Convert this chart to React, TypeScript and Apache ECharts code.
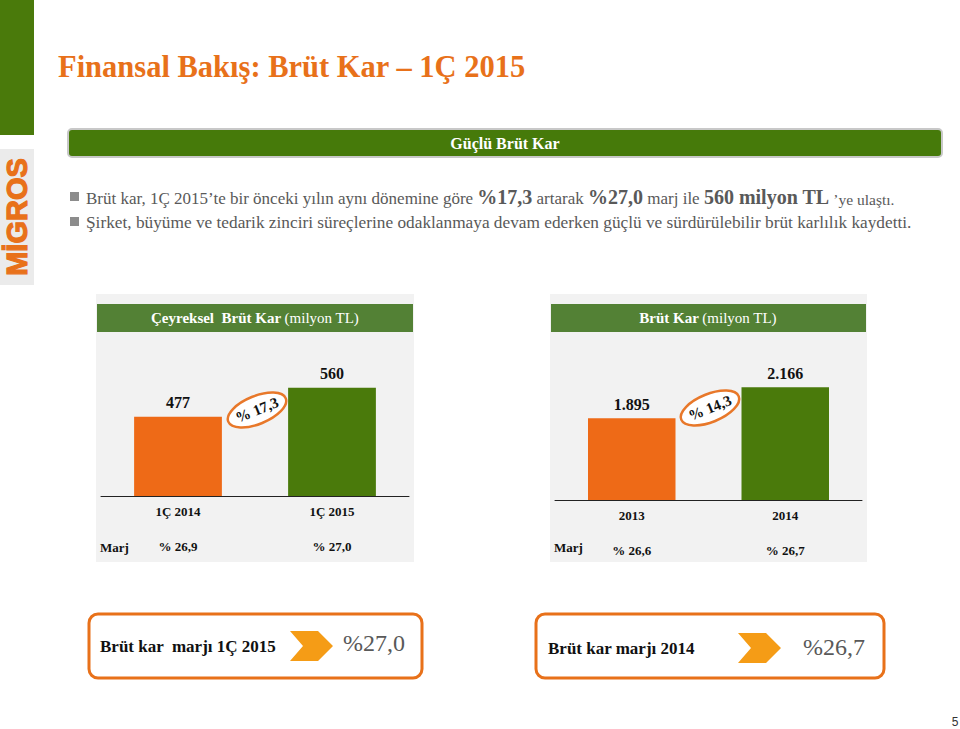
import React, { useEffect, useRef } from "react";
import * as echarts from "echarts";

const quarterCats = ["1Ç 2014", "1Ç 2015"];
const quarterValues = [477, 560];
const quarterMargins = ["% 26,9", "% 27,0"];
const yearCats = ["2013", "2014"];
const yearValues = [1895, 2166];
const yearMargins = ["% 26,6", "% 26,7"];
const growthLabels = ["% 17,3", "% 14,3"];
const boxLabels = ["Brüt kar  marjı 1Ç 2015", "Brüt kar marjı 2014"];
const boxValues = ["%27,0", "%26,7"];

const ORANGE = "#EE6A17";
const GREEN = "#4A7A0B";
const TITLE_ORANGE = "#E8711A";
const SERIF = "'Liberation Serif', 'DejaVu Serif', serif";

const fmt = (n: number) => String(n).replace(/\B(?=(\d{3})+(?!\d))/g, ".");

export default function App() {
  const ref = useRef<HTMLDivElement>(null);
  useEffect(() => {
    if (!ref.current) return;
    const chart = echarts.init(ref.current, undefined, { renderer: "svg" });
    const barColors = [ORANGE, GREEN];

    const catAxis = (gi: number, cats: string[]) => ({
      type: "category",
      gridIndex: gi,
      data: cats,
      axisLine: { lineStyle: { color: "#222", width: 1 } },
      axisTick: { show: false },
      axisLabel: { color: "#111", fontWeight: "bold", fontSize: 13, fontFamily: SERIF, margin: 9 },
    });
    const marjAxis = (gi: number, vals: string[]) => ({
      type: "category",
      gridIndex: gi,
      data: vals,
      position: "bottom",
      offset: 36,
      axisLine: { show: false },
      axisTick: { show: false },
      axisLabel: { color: "#111", fontWeight: "bold", fontSize: 13, fontFamily: SERIF, margin: 8 },
    });

    const barSeries = (axisIdx: number, values: number[], useFmt: boolean) => ({
      type: "bar",
      xAxisIndex: axisIdx,
      yAxisIndex: axisIdx === 0 ? 0 : 1,
      barWidth: "57%",
      data: values.map((v, i) => ({ value: v, itemStyle: { color: barColors[i] } })),
      label: {
        show: true,
        position: "top",
        distance: 6,
        color: "#111",
        fontWeight: "bold",
        fontSize: 16,
        fontFamily: SERIF,
        formatter: (p: any) => (useFmt ? fmt(p.value) : String(p.value)),
      },
    });

    const badge = (cx: number, cy: number, text: string) => ({
      type: "group",
      x: cx,
      y: cy,
      rotation: (22 * Math.PI) / 180,
      z: 50,
      children: [
        {
          type: "ellipse",
          shape: { cx: 0, cy: 0, rx: 31, ry: 14 },
          style: { fill: "#fff", stroke: "#E8782A", lineWidth: 2.5 },
          z: 50,
        },
        {
          type: "text",
          x: 0,
          y: 0,
          z: 51,
          style: {
            text,
            fill: "#111",
            font: `bold 15px ${SERIF}`,
            textAlign: "center",
            textVerticalAlign: "middle",
          },
        },
      ],
    });

    const chevron = (x: number, y: number) => ({
      type: "polygon",
      shape: {
        points: [
          [x, y],
          [x + 28, y],
          [x + 43, y + 15],
          [x + 28, y + 30],
          [x, y + 30],
          [x + 13, y + 15],
        ],
      },
      style: { fill: "#F59C16" },
    });

    const bulletRich = {
      n: { fontSize: 17, fill: "#595959", fontFamily: SERIF, verticalAlign: "bottom" },
      b: { fontSize: 20, fontWeight: "bold", fill: "#595959", fontFamily: SERIF, verticalAlign: "bottom" },
      s: { fontSize: 15.5, fill: "#595959", fontFamily: SERIF, verticalAlign: "bottom" },
    };
    const headRich = {
      b: { fontSize: 15, fontWeight: "bold", fill: "#fff", fontFamily: SERIF },
      n: { fontSize: 15, fill: "#fff", fontFamily: SERIF },
    };

    const option: any = {
      animation: false,
      backgroundColor: "#fff",
      grid: [
        { left: 101, width: 308, top: 339, height: 157 },
        { left: 555, width: 307, top: 343, height: 157 },
      ],
      xAxis: [
        catAxis(0, quarterCats),
        catAxis(1, yearCats),
        marjAxis(0, quarterMargins),
        marjAxis(1, yearMargins),
      ],
      yAxis: [
        { type: "value", gridIndex: 0, min: 250, max: 700, show: false, splitLine: { show: false } },
        { type: "value", gridIndex: 1, min: 1180, max: 2552, show: false, splitLine: { show: false } },
      ],
      series: [barSeries(0, quarterValues, false), barSeries(1, yearValues, true)],
      graphic: [
        // left green strip
        { type: "rect", shape: { x: 0, y: 0, width: 34, height: 135 }, style: { fill: "#4A7A0B" }, z: 0 },
        // logo
        { type: "rect", shape: { x: 0, y: 149, width: 34, height: 136 }, style: { fill: "#EBEBEB" }, z: 0 },
        {
          type: "text",
          x: 17,
          y: 217,
          rotation: Math.PI / 2,
          style: {
            text: "MİGROS",
            fill: TITLE_ORANGE,
            stroke: TITLE_ORANGE,
            lineWidth: 1.2,
            font: "bold 29px 'Liberation Sans Narrow', 'Liberation Sans', sans-serif",
            textAlign: "center",
            textVerticalAlign: "middle",
          },
        },
        // title
        {
          type: "text",
          x: 58,
          y: 67,
          style: {
            text: "Finansal Bakış: Brüt Kar – 1Ç 2015",
            fill: TITLE_ORANGE,
            font: `bold 30.5px ${SERIF}`,
            textVerticalAlign: "middle",
          },
        },
        // header bar
        {
          type: "rect",
          shape: { x: 68, y: 129, width: 874, height: 28, r: 4 },
          style: { fill: "#467A0A", stroke: "#C8C8C8", lineWidth: 2 },
        },
        {
          type: "text",
          x: 505,
          y: 143,
          style: { text: "Güçlü Brüt Kar", fill: "#fff", font: `bold 16px ${SERIF}`, textAlign: "center", textVerticalAlign: "middle" },
        },
        // bullets
        { type: "rect", shape: { x: 70, y: 192, width: 9, height: 9 }, style: { fill: "#8C8C8C" } },
        { type: "rect", shape: { x: 70, y: 217, width: 9, height: 9 }, style: { fill: "#8C8C8C" } },
        {
          type: "text",
          x: 86,
          y: 197,
          style: {
            text:
              "{n|Brüt kar, 1Ç 2015’te bir önceki yılın aynı dönemine göre }{b|%17,3}{n| artarak }{b|%27,0}{n| marj ile }{b|560 milyon TL}{s| ’ye ulaştı.}",
            rich: bulletRich,
            textVerticalAlign: "middle",
          },
        },
        {
          type: "text",
          x: 86,
          y: 222,
          style: {
            text: "Şirket, büyüme ve tedarik zinciri süreçlerine odaklanmaya devam ederken güçlü ve sürdürülebilir brüt karlılık kaydetti.",
            fill: "#595959",
            font: `17.3px ${SERIF}`,
            textVerticalAlign: "middle",
          },
        },
        // panels
        { type: "rect", shape: { x: 96, y: 294, width: 318, height: 268 }, style: { fill: "#F2F2F2" }, z: -10 },
        { type: "rect", shape: { x: 550, y: 294, width: 317, height: 268 }, style: { fill: "#F2F2F2" }, z: -10 },
        { type: "rect", shape: { x: 97, y: 304, width: 316, height: 28 }, style: { fill: "#538135" }, z: -5 },
        { type: "rect", shape: { x: 551, y: 304, width: 315, height: 28 }, style: { fill: "#538135" }, z: -5 },
        {
          type: "text",
          x: 255,
          y: 318,
          style: {
            text: "{b|Çeyreksel  Brüt Kar} {n|(milyon TL)}",
            rich: headRich,
            textAlign: "center",
            textVerticalAlign: "middle",
          },
        },
        {
          type: "text",
          x: 708,
          y: 318,
          style: {
            text: "{b|Brüt Kar} {n|(milyon TL)}",
            rich: headRich,
            textAlign: "center",
            textVerticalAlign: "middle",
          },
        },
        {
          type: "text",
          x: 100,
          y: 547,
          style: { text: "Marj", fill: "#111", font: `bold 13px ${SERIF}`, textVerticalAlign: "middle" },
        },
        {
          type: "text",
          x: 554,
          y: 547,
          style: { text: "Marj", fill: "#111", font: `bold 13px ${SERIF}`, textVerticalAlign: "middle" },
        },
        badge(257, 410, growthLabels[0]),
        badge(710, 408, growthLabels[1]),
        // bottom boxes
        {
          type: "rect",
          shape: { x: 89, y: 614, width: 333, height: 64, r: 9 },
          style: { fill: "#fff", stroke: TITLE_ORANGE, lineWidth: 3 },
        },
        {
          type: "rect",
          shape: { x: 536, y: 614, width: 348, height: 64, r: 9 },
          style: { fill: "#fff", stroke: TITLE_ORANGE, lineWidth: 3 },
        },
        chevron(290, 631),
        chevron(738, 633),
        {
          type: "text",
          x: 100,
          y: 646,
          style: { text: boxLabels[0], fill: "#111", font: `bold 17px ${SERIF}`, textVerticalAlign: "middle" },
        },
        {
          type: "text",
          x: 548,
          y: 648,
          style: { text: boxLabels[1], fill: "#111", font: `bold 17px ${SERIF}`, textVerticalAlign: "middle" },
        },
        {
          type: "text",
          x: 343,
          y: 643,
          style: { text: boxValues[0], fill: "#595959", font: `24px ${SERIF}`, textVerticalAlign: "middle" },
        },
        {
          type: "text",
          x: 803,
          y: 647,
          style: { text: boxValues[1], fill: "#595959", font: `24px ${SERIF}`, textVerticalAlign: "middle" },
        },
        {
          type: "text",
          x: 955,
          y: 722,
          style: { text: "5", fill: "#333", font: `12px 'Liberation Sans', sans-serif`, textAlign: "center", textVerticalAlign: "middle" },
        },
      ],
    };
    chart.setOption(option);
    return () => chart.dispose();
  }, []);
  return (
    <div
      ref={ref}
      style={{ position: "absolute", left: 0, top: 0, width: 960, height: 729, background: "#fff" }}
    />
  );
}
